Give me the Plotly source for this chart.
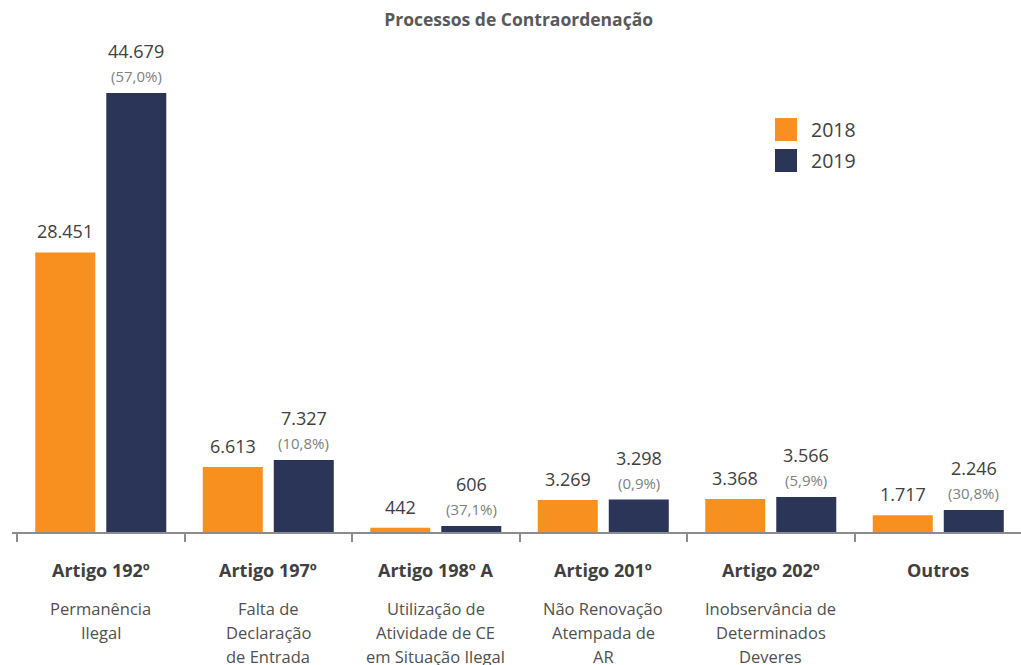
import plotly.graph_objects as go

title = "Processos de Contraordenação"
categories = ["Artigo 192º", "Artigo 197º", "Artigo 198º A", "Artigo 201º", "Artigo 202º", "Outros"]
descriptions = [
    ["Permanência", "Ilegal"],
    ["Falta de", "Declaração", "de Entrada"],
    ["Utilização de", "Atividade de CE", "em Situação Ilegal"],
    ["Não Renovação", "Atempada de", "AR"],
    ["Inobservância de", "Determinados", "Deveres"],
    [],
]
series_names = ["2018", "2019"]
values_2018 = [28451, 6613, 442, 3269, 3368, 1717]
values_2019 = [44679, 7327, 606, 3298, 3566, 2246]
pct_change = ["(57,0%)", "(10,8%)", "(37,1%)", "(0,9%)", "(5,9%)", "(30,8%)"]
colors = ["#F7901E", "#2B3557"]

FONT = "Open Sans"


def fmt(v):
    return f"{v:,}".replace(",", ".")


fig = go.Figure()
for name, vals, col in zip(series_names, [values_2018, values_2019], colors):
    fig.add_trace(go.Bar(x=categories, y=vals, name=name, marker=dict(color=col, line=dict(width=0)),
                         showlegend=False, hoverinfo="skip"))

ann = []
OFF = 35.5
for c, v in zip(categories, values_2018):
    ann.append(dict(x=c, y=v, xref="x", yref="y", text=fmt(v), showarrow=False, xshift=-OFF, yshift=21,
                    yanchor="middle", font=dict(family=FONT, size=18, color="#404040")))
for c, v, p in zip(categories, values_2019, pct_change):
    ann.append(dict(x=c, y=v, xref="x", yref="y", text=fmt(v), showarrow=False, xshift=OFF, yshift=42,
                    yanchor="middle", font=dict(family=FONT, size=18, color="#404040")))
    ann.append(dict(x=c, y=v, xref="x", yref="y", text=p, showarrow=False, xshift=OFF, yshift=17,
                    yanchor="middle", font=dict(family=FONT, size=15, color="#808080")))

for c, desc in zip(categories, descriptions):
    ann.append(dict(x=c, y=0, xref="x", yref="paper", text=f"<b>{c}</b>", showarrow=False, yshift=-38,
                    yanchor="middle", font=dict(family=FONT, size=18, color="#404040")))
    for i, line in enumerate(desc):
        ann.append(dict(x=c, y=0, xref="x", yref="paper", text=line, showarrow=False, yshift=-76 - 24 * i,
                        yanchor="middle", font=dict(family=FONT, size=16.5, color="#505050")))

shapes = []
for i, (name, col) in enumerate(zip(series_names, colors)):
    y0 = 118 + 31 * i
    shapes.append(dict(type="rect", xref="paper", yref="paper",
                       x0=(775 - 12) / 1009, x1=(797 - 12) / 1009,
                       y0=1 - (y0 + 23 - 40) / 492, y1=1 - (y0 - 40) / 492,
                       fillcolor=col, line=dict(width=0)))
    ann.append(dict(x=(809 - 12) / 1009, y=1 - (y0 + 11.5 - 40) / 492, xref="paper", yref="paper",
                    text=name, showarrow=False, xanchor="left", yanchor="middle",
                    font=dict(family=FONT, size=19.5, color="#404040")))

fig.update_layout(
    width=1021, height=665,
    margin=dict(l=12, r=0, t=40, b=133),
    paper_bgcolor="white", plot_bgcolor="white",
    barmode="group", bargap=0.152, bargroupgap=0.155,
    title=dict(text=f"<b>{title}</b>", x=0.508, xanchor="center", y=0.97, yanchor="middle",
               font=dict(family=FONT, size=17.5, color="#595959")),
    xaxis=dict(showticklabels=False, showline=True, linecolor="#8c8c8c", linewidth=1.5,
               ticks="outside", tickson="boundaries", ticklen=8, tickcolor="#8c8c8c", tickwidth=1.5,
               showgrid=False, zeroline=False, range=[-0.53, 5.494]),
    yaxis=dict(visible=False, range=[0, 50071], showgrid=False, zeroline=False),
    annotations=ann, shapes=shapes,
)

fig.write_html("out.html", config={"displayModeBar": False},
               post_script="document.body.style.margin='0';")
